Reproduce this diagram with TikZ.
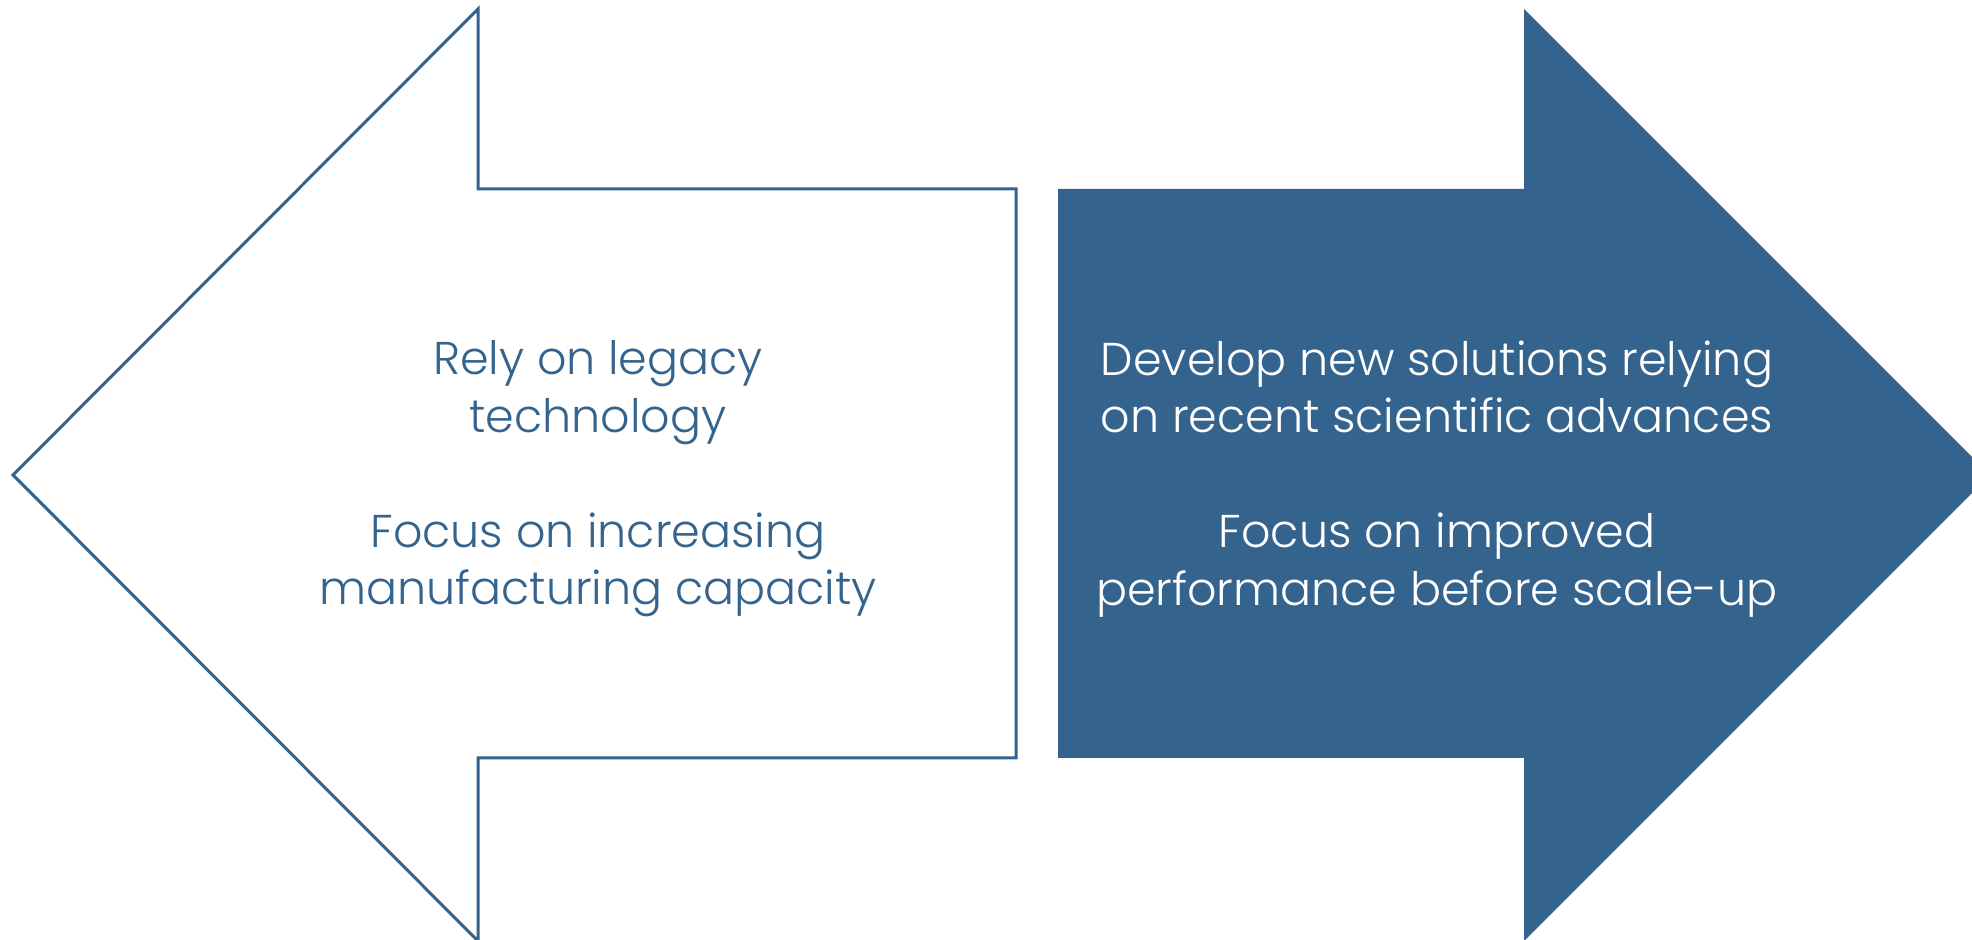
\documentclass[tikz,border=0pt]{standalone}
\usepackage{fontspec}
\setmainfont{Poppins}[UprightFont=* Light]
\usepackage{xcolor}

\definecolor{navy}{HTML}{34638E}

\begin{document}
\begin{tikzpicture}[x=0.5pt, y=-0.5pt]

    % Define styles for the two arrows and their texts
    \tikzstyle{outlined} = [draw=navy, line width=1.5pt, line join=miter, fill=white]
    \tikzstyle{filled} = [fill=navy]
    \tikzstyle{textblock} = [align=center, font=\fontsize{23}{28.75}\selectfont]

    \useasboundingbox (0,0) rectangle (1972,940);

    % Left arrow, outline only
    \draw [outlined] (13,475) -- (478,9) -- (478,189) -- (1016,189)
        -- (1016,758) -- (478,758) -- (478,941) -- cycle;

    % Right arrow, solid
    \fill [filled] (1058,189) -- (1524,189) -- (1524,9) -- (1990,475)
        -- (1524,941) -- (1524,758) -- (1058,758) -- cycle;

    % Texts
    \node (legacy) [textblock, text=navy] at (598,479)
        {Rely on legacy\\technology\\[28.75pt]Focus on increasing\\manufacturing capacity};
    \node (novel) [textblock, text=white] at (1437,479)
        {Develop new solutions relying\\on recent scientific advances\\[28.75pt]Focus on improved\\performance before scale-up};

\end{tikzpicture}
\end{document}
